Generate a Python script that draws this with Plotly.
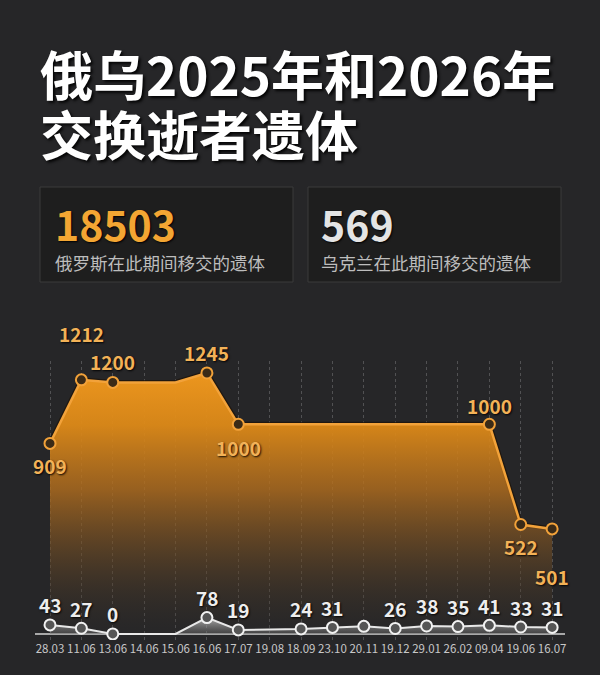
import plotly.graph_objects as go

# data
dates = ["28.03", "11.06", "13.06", "14.06", "15.06", "16.06", "17.07", "19.08", "18.09",
         "23.10", "20.11", "19.12", "29.01", "26.02", "09.04", "19.06", "16.07"]

# Russia -> Ukraine (orange line, every vertex) and the dates that carry a dot
ru_line = [909, 1212, 1200, 1200, 1200, 1245, 1000, 1000, 1000, 1000, 1000, 1000, 1000, 1000, 1000, 522, 501]
ru_points = [909, 1212, 1200, None, None, 1245, 1000, None, None, None, None, None, None, None, 1000, 522, 501]

# Ukraine -> Russia (grey line)
ua_line = [43, 27, 0, 0, 0, 78, 19, None, 24, 31, 36, 26, 38, 35, 41, 33, 31]
ua_points = [43, 27, 0, None, None, 78, 19, None, 24, 31, 36, 26, 38, 35, 41, 33, 31]
ua_unlabeled = ["20.11"]

title_lines = ["俄乌2025年和2026年", "交换逝者遗体"]
ru_total = 18503
ua_total = 569
ru_caption = "俄罗斯在此期间移交的遗体"
ua_caption = "乌克兰在此期间移交的遗体"

# layout / style
W, H = 600, 675
ML, MR, MT, MB = 35, 35, 361, 35
FONT = "Noto Sans CJK SC"
ORANGE = "#f2a23a"

# label offsets (pixels) for the orange labels
ru_shift = {"28.03": -22, "11.06": 46, "13.06": 21, "16.06": 20, "17.07": -23,
            "09.04": 19, "19.06": -22, "16.07": -48}


def px_x(px):
    return (px - ML) / (W - ML - MR)


def px_y(py):
    return (H - MB - py) / (H - MT - MB)


fig = go.Figure()

# dark edge under orange line
fig.add_trace(go.Scatter(x=dates, y=ru_line, mode="lines",
                         line=dict(color="rgba(30,20,10,0.8)", width=5),
                         hoverinfo="skip"))
fig.add_trace(go.Scatter(
    x=dates, y=ru_line, mode="lines", fill="tozeroy",
    line=dict(color=ORANGE, width=2.5),
    fillgradient=dict(type="vertical", start=0, stop=max(ru_line),
                      colorscale=[[0, "rgba(45,42,40,0.15)"],
                                  [0.25, "rgba(95,68,38,0.55)"],
                                  [0.55, "rgba(175,108,30,0.82)"],
                                  [0.8, "rgba(222,138,24,0.95)"],
                                  [1, "rgba(236,150,30,1)"]]),
))
fig.add_trace(go.Scatter(
    x=dates, y=ru_points, mode="markers",
    marker=dict(size=11, color="#3b2b17", line=dict(color=ORANGE, width=2)),
))

fig.add_trace(go.Scatter(
    x=dates, y=ua_line, mode="lines", fill="tozeroy", connectgaps=True,
    line=dict(color="#e8e8e8", width=2),
    fillgradient=dict(type="vertical", start=0, stop=max(v for v in ua_line if v is not None),
                      colorscale=[[0, "rgba(120,120,120,0.35)"],
                                  [1, "rgba(215,215,215,0.75)"]]),
))
fig.add_trace(go.Scatter(
    x=dates, y=ua_points, mode="markers",
    marker=dict(size=11, color="#555555", line=dict(color="#f2f2f2", width=2)),
))

annotations = []
shadow = "1px 1px 2px rgba(0,0,0,0.9)"
# category axis: annotations are placed by category index
for i, (d, v) in enumerate(zip(dates, ru_points)):
    if v is None:
        continue
    annotations.append(dict(x=i, y=v, xref="x", yref="y", text=str(v), showarrow=False,
                            xanchor="center", yanchor="middle", yshift=ru_shift.get(d, 20),
                            font=dict(family=FONT, size=19, color="#f3b257", weight=700,
                                      shadow=shadow)))
for i, (d, v) in enumerate(zip(dates, ua_points)):
    if v is None or d in ua_unlabeled:
        continue
    annotations.append(dict(x=i, y=v, xref="x", yref="y", text=str(v), showarrow=False,
                            xanchor="center", yanchor="middle", yshift=20,
                            font=dict(family=FONT, size=19, color="#eeeeee", weight=700,
                                      shadow=shadow)))

# title
for line, yc in zip(title_lines, [73, 133]):
    annotations.append(dict(x=px_x(38), y=px_y(yc), xref="paper", yref="paper", text=line,
                            showarrow=False, xanchor="left", yanchor="middle",
                            font=dict(family=FONT, size=53, color="#ffffff", weight=700,
                                      shadow="2px 2px 3px rgba(0,0,0,0.9)")))

# summary boxes
shapes = []
for x0, x1 in [(40, 293), (308, 561)]:
    shapes.append(dict(type="rect", xref="paper", yref="paper",
                       x0=px_x(x0), x1=px_x(x1), y0=px_y(282), y1=px_y(187),
                       fillcolor="#1e1e1e", line=dict(color="#3a3a3a", width=1), layer="below"))

for xl, total, cap, col in [(53, ru_total, ru_caption, "#f3a633"), (319, ua_total, ua_caption, "#e4e4e4")]:
    annotations.append(dict(x=px_x(xl), y=px_y(223), xref="paper", yref="paper", text=str(total),
                            showarrow=False, xanchor="left", yanchor="middle",
                            font=dict(family=FONT, size=41, color=col, weight=700,
                                      shadow="1px 1px 2px #000")))
    annotations.append(dict(x=px_x(xl), y=px_y(262), xref="paper", yref="paper", text=cap,
                            showarrow=False, xanchor="left", yanchor="middle",
                            font=dict(family=FONT, size=17.5, color="#bdbdbd")))

fig.update_layout(
    width=W, height=H,
    margin=dict(l=ML, r=MR, t=MT, b=MB),
    paper_bgcolor="#262628",
    plot_bgcolor="rgba(0,0,0,0)",
    showlegend=False,
    annotations=annotations,
    shapes=shapes,
    xaxis=dict(type="category", range=[-0.478, 16.41], showgrid=True,
               gridcolor="rgba(255,255,255,0.2)", griddash="dot", gridwidth=1,
               showline=False, zeroline=False, ticks="", automargin=False,
               tickfont=dict(family=FONT, size=11.5, color="#c8c8c8")),
    yaxis=dict(range=[-29, 1302], showgrid=False, showticklabels=False,
               zeroline=True, zerolinecolor="#a8a8a8", zerolinewidth=2, automargin=False),
)

# drop the page's default body margin so the dark figure fills the window
fig.write_html("out.html", config={"displayModeBar": False},
               post_script="document.body.style.margin='0';")
